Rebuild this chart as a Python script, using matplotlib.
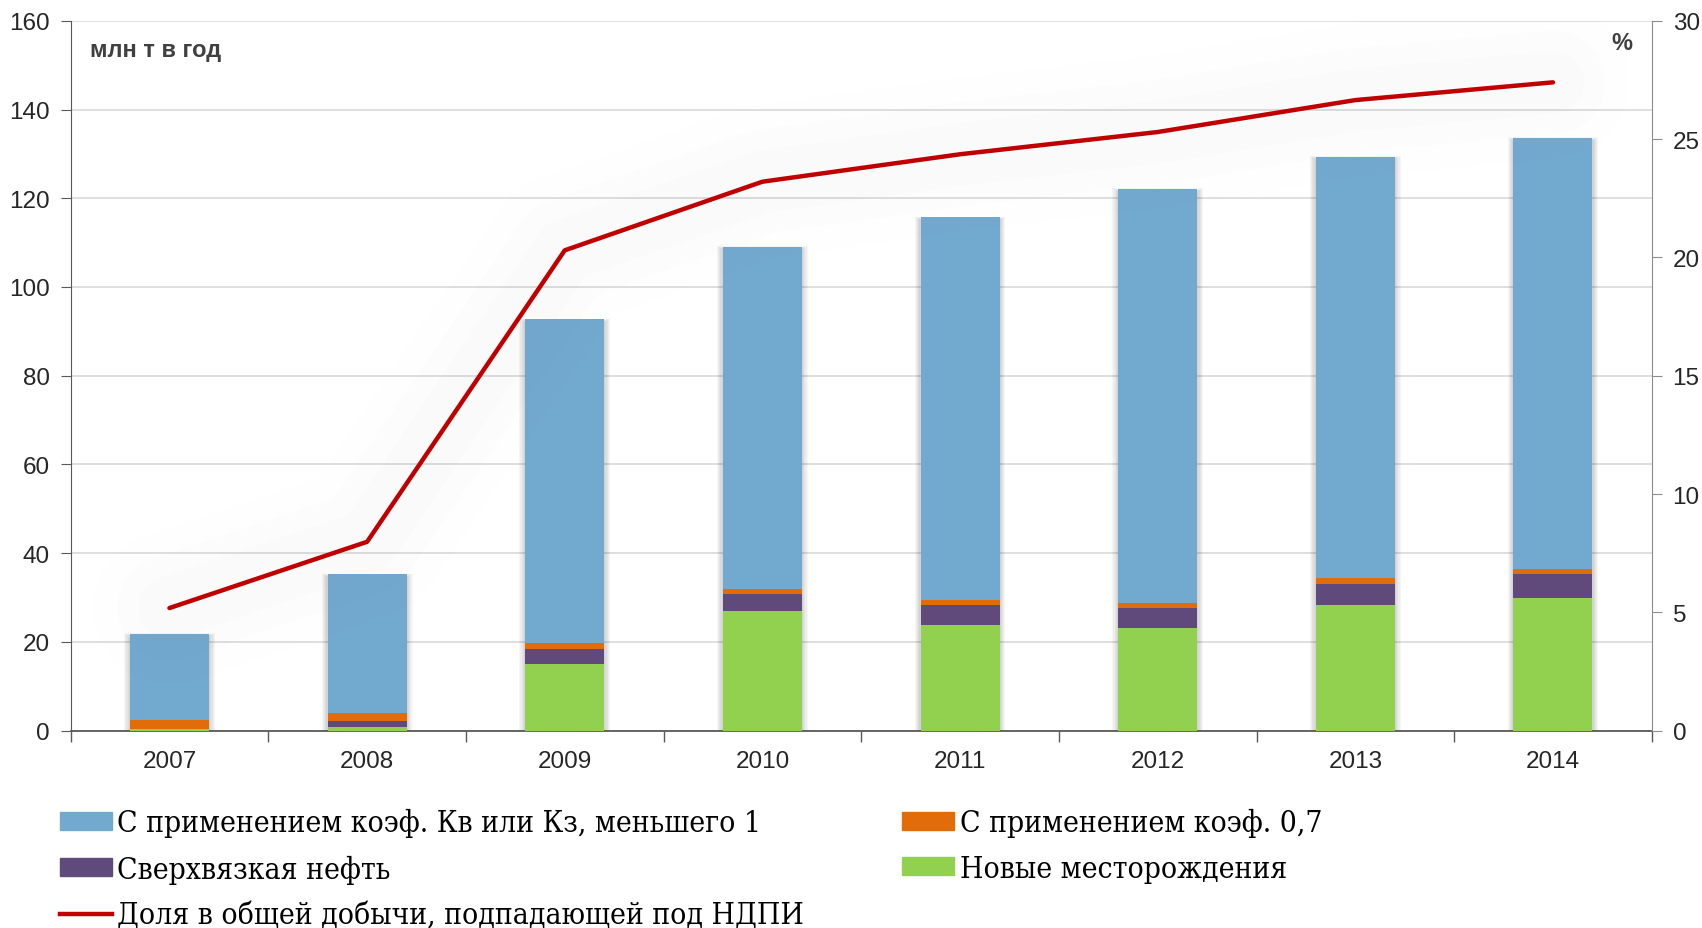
"""Stacked bars of oil output under tax benefits with share line on a second axis."""

import matplotlib.pyplot as plt
from matplotlib.lines import Line2D
from matplotlib.patches import Patch

years = ["2007", "2008", "2009", "2010", "2011", "2012", "2013", "2014"]

# млн т в год, stacked from the bottom
new_fields = [0.4, 0.75, 15.1, 27.0, 23.8, 23.1, 28.2, 30.0]
heavy_oil = [0.0, 1.5, 3.4, 3.9, 4.4, 4.5, 4.9, 5.4]
coef_07 = [1.9, 1.8, 1.3, 1.1, 1.3, 1.1, 1.2, 1.0]
coef_kv = [19.5, 31.15, 72.9, 77.1, 86.2, 93.4, 95.1, 97.2]

# % of total production subject to the mineral extraction tax
share = [5.18, 7.98, 20.3, 23.2, 24.36, 25.3, 26.65, 27.4]

labels = [
    "С применением коэф. Кв или Кз, меньшего 1",
    "С применением коэф. 0,7",
    "Сверхвязкая нефть",
    "Новые месторождения",
    "Доля в общей добычи, подпадающей под НДПИ",
]
colors = ["#72A9CF", "#E36C0A", "#604A7B", "#92D050"]
line_color = "#C00000"

plt.rcParams.update({
    "font.family": ["Liberation Sans", "DejaVu Sans"],
    "figure.facecolor": "white",
    "axes.facecolor": "white",
})

fig = plt.figure(figsize=(17.02, 9.29), dpi=100)
ax = fig.add_axes([0.0415, 0.2125, 0.929, 0.764])
ax2 = ax.twinx()

x = list(range(len(years)))
width = 0.40

# soft drop shadow under the bars
totals = [a + b + c + d for a, b, c, d in zip(new_fields, heavy_oil, coef_07, coef_kv)]
for k in range(1, 6):
    ax.bar(x, [t + 0.15 * k for t in totals], width + 0.012 * k, bottom=-0.6,
           color="#000000", alpha=0.035, linewidth=0, zorder=2)

bottom = [0.0] * len(years)
for vals, col in zip([new_fields, heavy_oil, coef_07, coef_kv], colors[::-1]):
    ax.bar(x, vals, width, bottom=bottom, color=col, linewidth=0, zorder=3)
    bottom = [b + v for b, v in zip(bottom, vals)]

ax.set_xlim(-0.5, len(years) - 0.5)
ax.set_ylim(0, 160)
ax.set_yticks(range(0, 161, 20))
ax.yaxis.grid(True, color="#D9D9D9", linewidth=1.2, zorder=0)
ax.set_axisbelow(True)
ax.set_xticks(x)
ax.set_xticklabels(years)
ax.set_xticks([i + 0.5 for i in range(-1, len(years))], minor=True)
ax.tick_params(axis="x", which="major", length=0, pad=14, labelsize=17.5, colors="#262626")
ax.tick_params(axis="x", which="minor", length=8, color="#595959", width=1)
ax.tick_params(axis="y", length=7, color="#595959", labelsize=17.5, labelcolor="#262626", pad=8)
for side in ["top", "right"]:
    ax.spines[side].set_visible(False)
ax.spines["left"].set_color("#595959")
ax.spines["bottom"].set_color("#595959")
ax.spines["bottom"].set_linewidth(1.3)

# faint haze around the line, then the line itself
for lw, a in [(110, 0.009), (75, 0.01), (45, 0.011)]:
    ax2.plot(x, share, color="#808080", linewidth=lw, alpha=a, solid_capstyle="round", zorder=1)
ax2.plot(x, share, color=line_color, linewidth=3.2, solid_capstyle="round", zorder=5)
ax2.set_ylim(0, 30)
ax2.set_yticks(range(0, 31, 5))
ax2.tick_params(axis="y", length=7, color="#8C8C8C", labelsize=17.5, labelcolor="#262626", pad=8)
for side in ["top", "left", "bottom"]:
    ax2.spines[side].set_visible(False)
ax2.spines["right"].set_color("#8C8C8C")

fig.text(0.053, 0.946, "млн т в год", fontsize=17, fontweight="bold", color="#404040",
         va="center", ha="left")
fig.text(0.959, 0.953, "%", fontsize=17, fontweight="bold", color="#404040",
         va="center", ha="right")

handles = [
    Patch(color=colors[0]),
    Patch(color=colors[2]),
    Line2D([0], [0], color=line_color, linewidth=3.2),
    Patch(color=colors[1]),
    Patch(color=colors[3]),
]
order = [0, 2, 4, 1, 3]
fig.legend(
    handles,
    [labels[i] for i in order],
    loc="upper left",
    bbox_to_anchor=(0.035, 0.129),
    ncol=2,
    frameon=False,
    prop={"family": ["DejaVu Serif", "Liberation Serif"], "stretch": "condensed", "size": 21.5},
    borderpad=0,
    borderaxespad=0,
    handlelength=1.74,
    handleheight=0.55,
    handletextpad=0.18,
    columnspacing=3.3,
    labelspacing=0.59,
)

fig.savefig("out.png", dpi=100)
